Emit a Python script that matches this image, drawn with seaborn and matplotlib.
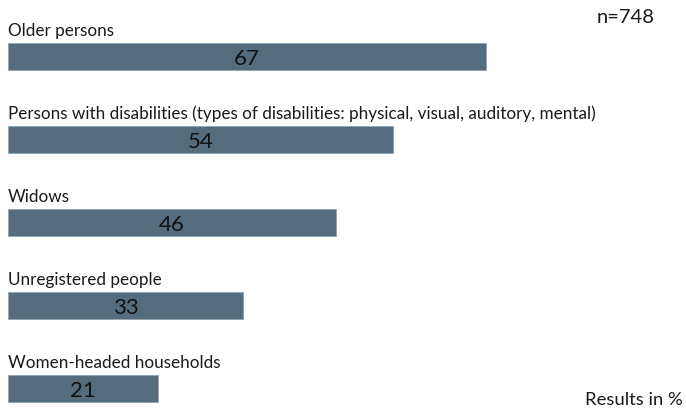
import matplotlib
matplotlib.use("Agg")
import matplotlib.pyplot as plt
import seaborn as sns
import pandas as pd

categories = [
    "Older persons",
    "Persons with disabilities (types of disabilities: physical, visual, auditory, mental)",
    "Widows",
    "Unregistered people",
    "Women-headed households",
]
values = [67, 54, 46, 33, 21]
sample_note = "n=748"
unit_note = "Results in %"

sns.set_theme(style="white")
plt.rcParams["font.family"] = ["Lato", "DejaVu Sans"]

W, H = 686, 409
fig = plt.figure(figsize=(W / 100, H / 100), dpi=100)
ax = fig.add_axes([8 / W, 0, (W - 8) / W, 1])

df = pd.DataFrame({"cat": categories, "val": values})
sns.barplot(data=df, x="val", y="cat", orient="h", color="#536d7e",
            saturation=1, width=27 / 83, ax=ax, edgecolor="#8fa3b0", linewidth=0.6)

px_per_unit = (486 - 8) / 67
ax.set_xlim(0, (W - 8) / px_per_unit)
ax.set_ylim((H - 56.5) / 83, -56.5 / 83)
ax.set_axis_off()

for i, (c, v) in enumerate(zip(categories, values)):
    ax.text(0, i - (56.5 - 36) / 83, c, ha="left", va="baseline", fontsize=12.3, color="#1a1a1a")
    ax.text(v / 2, i + 8.5 / 83, str(v), ha="center", va="baseline", fontsize=16, color="#111111")

fig.text(655 / W, 1 - 23 / H, sample_note, ha="right", va="baseline", fontsize=14.5, color="#1a1a1a")
fig.text(683 / W, 1 - 405 / H, unit_note, ha="right", va="baseline", fontsize=13.3, color="#1a1a1a")

fig.savefig("out.png", dpi=100)
